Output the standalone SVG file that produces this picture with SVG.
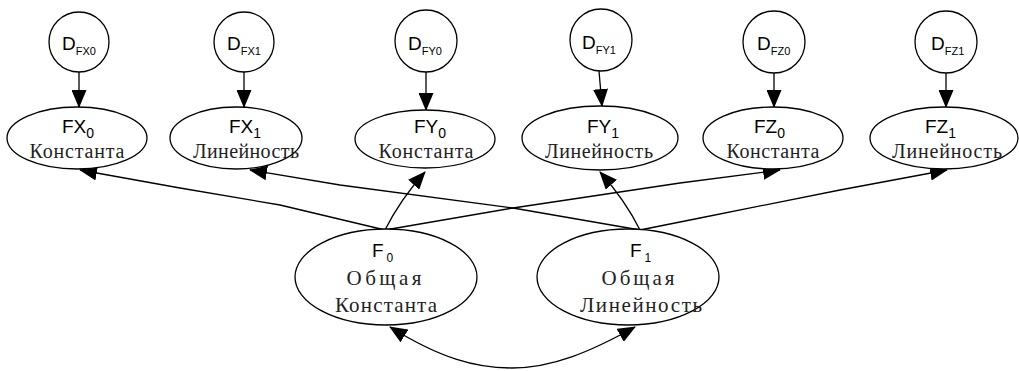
<svg xmlns="http://www.w3.org/2000/svg" width="1019" height="371" viewBox="0 0 1019 371">
<defs>
<marker id="ah" viewBox="0 0 18 15" refX="17" refY="7.5" markerWidth="18" markerHeight="15" markerUnits="userSpaceOnUse" orient="auto-start-reverse">
<path d="M0,0 L18,7.5 L0,15 z" fill="#000"/>
</marker>
<style>
.sh{fill:#fff;stroke:#000;stroke-width:1.3}
.lat{font-family:"Liberation Sans",Arial,sans-serif;font-size:19px;fill:#000}
.sub{font-size:14px}
.fsub{font-size:12px}
.dsub{font-size:11px}
.cyr{font-family:"Liberation Serif","Times New Roman",serif;font-size:20px;fill:#222;text-anchor:middle}
.big{font-size:21px}
.cn{fill:none;stroke:#000;stroke-width:1.3;stroke-linejoin:round;marker-end:url(#ah)}
</style>
</defs>
<rect width="1019" height="371" fill="#fff"/>
<g id="connectors">
<path class="cn" d="M79,72 L79,107"/>
<path class="cn" d="M244,72 L244,107"/>
<path class="cn" d="M426,72 L426,110"/>
<path class="cn" d="M599,71 L602,106"/>
<path class="cn" d="M774,73 L774,107"/>
<path class="cn" d="M946,73 L946,107"/>
<path class="cn" d="M385,230 L280,205 L180,188 L80,170"/>
<path class="cn" d="M640,230 L513,208 L340,185 L250,170"/>
<path class="cn" d="M385,230 Q400,200 425,172"/>
<path class="cn" d="M640,230 Q625,200 600,172"/>
<path class="cn" d="M385,230 L513,208 L680,183 L780,170"/>
<path class="cn" d="M640,230 L700,218 L840,190 L947,170"/>
<path class="cn" style="marker-start:url(#ah)" d="M390,327 C440,358 475,368 512,368 C552,368 590,352 635,327"/>
</g>
<g id="D_FX0"><circle class="sh" cx="79" cy="42" r="30"/><text class="lat" x="62" y="50">D<tspan class="dsub" dy="5">FX0</tspan></text></g>
<g id="D_FX1"><circle class="sh" cx="244" cy="42" r="30"/><text class="lat" x="227" y="50">D<tspan class="dsub" dy="5">FX1</tspan></text></g>
<g id="D_FY0"><circle class="sh" cx="426" cy="41" r="31"/><text class="lat" x="408" y="50">D<tspan class="dsub" dy="5">FY0</tspan></text></g>
<g id="D_FY1"><circle class="sh" cx="601" cy="40" r="31"/><text class="lat" x="582" y="49">D<tspan class="dsub" dy="5">FY1</tspan></text></g>
<g id="D_FZ0"><circle class="sh" cx="774" cy="42" r="31"/><text class="lat" x="757" y="50">D<tspan class="dsub" dy="5">FZ0</tspan></text></g>
<g id="D_FZ1"><circle class="sh" cx="946" cy="42" r="31"/><text class="lat" x="931" y="50">D<tspan class="dsub" dy="5">FZ1</tspan></text></g>
<g id="FX0"><ellipse class="sh" cx="77" cy="138" rx="70" ry="31"/><text class="lat" x="62" y="133">FX<tspan class="sub" dy="5">0</tspan></text><text class="cyr" x="77" y="158" textLength="95">Константа</text></g>
<g id="FX1"><ellipse class="sh" cx="236" cy="138" rx="66" ry="31"/><text class="lat" x="229" y="133">FX<tspan class="sub" dy="5">1</tspan></text><text class="cyr" x="246" y="158" textLength="106">Линейность</text></g>
<g id="FY0"><ellipse class="sh" cx="425" cy="139" rx="70" ry="29"/><text class="lat" x="414" y="133">FY<tspan class="sub" dy="5">0</tspan></text><text class="cyr" x="426" y="158" textLength="95">Константа</text></g>
<g id="FY1"><ellipse class="sh" cx="600" cy="138" rx="78" ry="32"/><text class="lat" x="587" y="133">FY<tspan class="sub" dy="5">1</tspan></text><text class="cyr" x="599" y="158" textLength="108">Линейность</text></g>
<g id="FZ0"><ellipse class="sh" cx="773" cy="138" rx="70" ry="31"/><text class="lat" x="754" y="133">FZ<tspan class="sub" dy="5">0</tspan></text><text class="cyr" x="773" y="158" textLength="93">Константа</text></g>
<g id="FZ1"><ellipse class="sh" cx="944" cy="138" rx="74" ry="31"/><text class="lat" x="925" y="133">FZ<tspan class="sub" dy="5">1</tspan></text><text class="cyr" x="947" y="158" textLength="110">Линейность</text></g>
<g id="F0"><ellipse class="sh" cx="386" cy="277" rx="91" ry="48"/><text class="lat" x="372" y="257">F<tspan class="fsub" dx="3" dy="5">0</tspan></text><text class="cyr big" x="384" y="285" textLength="75">Общая</text><text class="cyr big" x="386" y="312" textLength="102">Константа</text></g>
<g id="F1"><ellipse class="sh" cx="628" cy="277" rx="91" ry="48"/><text class="lat" x="630" y="257">F<tspan class="fsub" dx="3" dy="5">1</tspan></text><text class="cyr big" x="638" y="285" textLength="73">Общая</text><text class="cyr big" x="641" y="312" textLength="122">Линейность</text></g>
</svg>
